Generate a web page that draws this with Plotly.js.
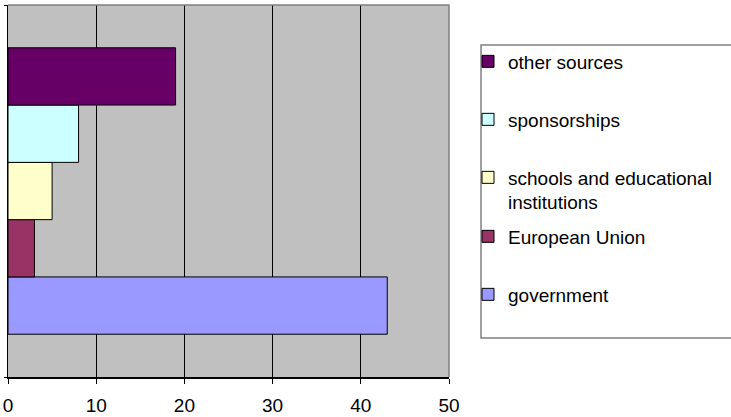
<!DOCTYPE html>
<html>
<head>
<meta charset="utf-8">
<script src="https://cdn.plot.ly/plotly-3.0.1.min.js"></script>
<style>html,body{margin:0;padding:0;background:#fff;}#chart{width:731px;height:417px;}</style>
</head>
<body>
<div id="chart"></div>
<script>
// Data (bottom to top as drawn)
const sources = ["government", "European Union", "schools and educational<br>institutions", "sponsorships", "other sources"];
const values = [43, 3, 5, 8, 19];
const colors = ["#9999ff", "#993366", "#ffffcc", "#ccffff", "#660066"];
const category = [""];
const xTicks = [0, 10, 20, 30, 40, 50];

// legend positions (px from top) for each entry
const legendTops = [275.5, 217.5, 158.5, 100.5, 42.5];
const legendIds = ["legend", "legend2", "legend3", "legend4", "legend5"];

const W = 731, H = 417;
const FONT = "Liberation Sans, Arial, sans-serif";
const FS = 19;

const traces = sources.map((s, i) => ({
  type: "bar",
  orientation: "h",
  name: s,
  y: category,
  x: [values[i]],
  marker: { color: colors[i], line: { color: "#000000", width: 1 } },
  legend: legendIds[i],
  hoverinfo: "x+name"
}));

const layout = {
  width: W, height: H,
  margin: { l: 8, r: 282, t: 5, b: 40 },
  paper_bgcolor: "#ffffff",
  plot_bgcolor: "#c0c0c0",
  font: { family: FONT, size: FS, color: "#000000" },
  barmode: "group",
  bargap: 0.23,
  bargroupgap: 0,
  xaxis: {
    range: [0, 50],
    tickvals: xTicks,
    ticktext: xTicks.map(String),
    showgrid: true, gridcolor: "#000000", gridwidth: 1,
    zeroline: false,
    showline: true, linecolor: "#000000", linewidth: 1.5,
    ticks: "outside", ticklen: 5, tickcolor: "#000000", tickwidth: 1,
    ticklabelstandoff: 6,
    tickfont: { family: FONT, size: FS, color: "#000000" },
    fixedrange: true
  },
  yaxis: {
    type: "category",
    range: [-0.5, 0.5],
    showticklabels: false,
    showgrid: false, zeroline: false,
    showline: true, linecolor: "#000000", linewidth: 1.5,
    ticks: "outside", ticklen: 3, tickcolor: "#000000",
    tickson: "boundaries",
    fixedrange: true
  },
  shapes: [
    { type: "path", xref: "paper", yref: "paper",
      path: "M 0 1 L 1 1 L 1 0", line: { color: "#808080", width: 1.5 }, layer: "above" },
    { type: "rect", xref: "paper", yref: "paper",
      x0: 1.0726, x1: 1.66, y0: 0.1048, y1: 0.8925,
      line: { color: "#808080", width: 1.5 }, fillcolor: "rgba(0,0,0,0)" }
  ],
  showlegend: true
};

legendIds.forEach((id, i) => {
  layout[id] = {
    xref: "container", yref: "container",
    x: 468 / W, y: 1 - legendTops[i] / H,
    xanchor: "left", yanchor: "top",
    bgcolor: "rgba(0,0,0,0)", borderwidth: 0,
    font: { family: FONT, size: FS, color: "#000000" },
    valign: "top"
  };
});

Plotly.newPlot("chart", traces, layout, { displayModeBar: false, staticPlot: true });
</script>
</body>
</html>
